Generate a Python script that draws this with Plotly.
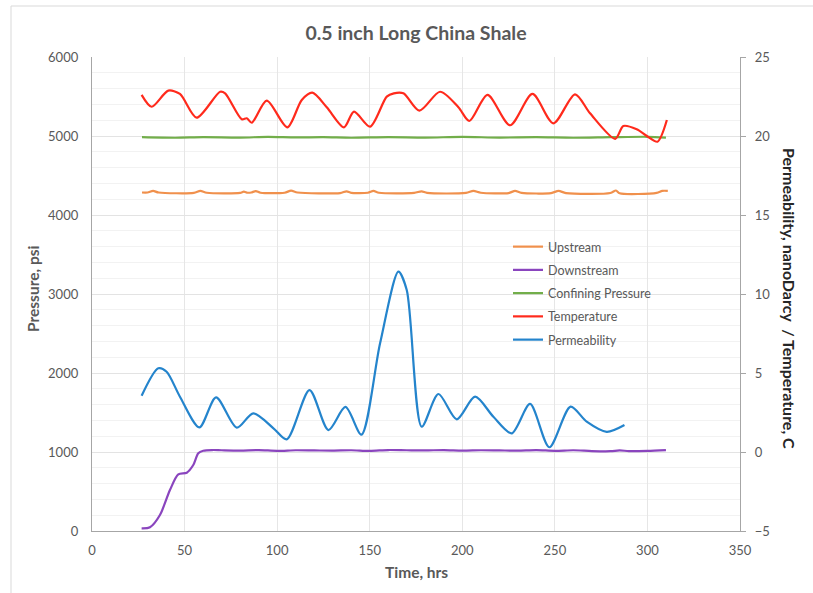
import plotly.graph_objects as go

# ---------------- data ----------------
up_t = [27, 30, 33, 36, 55, 58.5, 62, 80, 82, 84, 86, 88.5, 91, 104, 107.5, 111,
        134, 137.5, 140, 149, 152, 155, 174, 178, 181, 202, 206, 210, 225, 228.5,
        232, 248, 252, 256, 280, 283, 285, 305, 308, 311]
up_p = [4285, 4285, 4305, 4285, 4280, 4305, 4282, 4280, 4295, 4282, 4285, 4303,
        4282, 4282, 4308, 4285, 4278, 4300, 4280, 4282, 4305, 4282, 4280, 4300,
        4280, 4280, 4305, 4282, 4278, 4305, 4280, 4278, 4305, 4278, 4278, 4310,
        4275, 4280, 4305, 4305]

down_t = [26.8, 31.3, 36.7, 42.1, 46.6, 51.2, 54.7, 57.4, 60.1, 65, 70, 80, 90,
          100, 110, 120, 130, 140, 150, 160, 170, 180, 190, 200, 210, 220, 230,
          240, 250, 260, 270, 280, 285, 290, 300, 310]
down_p = [34, 47, 202, 519, 717, 738, 835, 983, 1016, 1025, 1022, 1018, 1025,
          1015, 1022, 1020, 1018, 1022, 1015, 1025, 1022, 1020, 1025, 1018, 1022,
          1020, 1018, 1025, 1015, 1022, 1012, 1010, 1020, 1012, 1015, 1025]

conf_t = [27, 45, 60, 80, 95, 110, 125, 140, 160, 180, 200, 220, 240, 260, 280,
          300, 310]
conf_p = [4985, 4978, 4985, 4980, 4988, 4982, 4985, 4978, 4985, 4980, 4988, 4980,
          4985, 4978, 4985, 4990, 4980]

temp_t = [26.8, 32.2, 41.2, 47.5, 56.5, 69.2, 71.9, 80.9, 83.6, 86.3, 94.4, 105.5,
          113.3, 119.0, 126.8, 136.1, 141.5, 150.2, 159.2, 163.0, 168.2, 176.8,
          188.0, 197.9, 203.8, 213.6, 225.8, 237.9, 249.2, 260.9, 269.0, 282.6,
          287.0, 294.2, 299.7, 305.4, 310.5]
temp_c = [22.6, 21.85, 22.87, 22.66, 21.16, 22.8, 22.7, 21.06, 21.12, 20.84, 22.24,
          20.55, 22.28, 22.74, 21.82, 20.55, 21.54, 20.59, 22.49, 22.7, 22.7, 21.6,
          22.8, 21.82, 20.95, 22.6, 20.68, 22.66, 20.8, 22.64, 21.44, 19.82, 20.63,
          20.42, 20.0, 19.64, 21.01]

perm_t = [26.8, 35.8, 40.3, 47.5, 58, 67, 78.2, 87.1, 98, 105.2, 117.5, 127.7,
          136.9, 145.5, 155.6, 165.5, 170, 178.1, 187.1, 197, 206.9, 216.8, 226.7,
          236.6, 247, 258.5, 267.2, 278, 287.6]
perm_nd = [3.56, 5.3, 5.08, 3.5, 1.56, 3.46, 1.54, 2.45, 1.5, 0.8, 3.92, 1.39,
           2.85, 1.1, 6.88, 11.41, 10.25, 1.6, 3.67, 2.07, 3.5, 2.23, 1.18, 3.04,
           0.3, 2.87, 1.92, 1.28, 1.71]

x_ticks = [0, 50, 100, 150, 200, 250, 300, 350]

# ---------------- figure ----------------
FONT = "Lato, 'Open Sans', sans-serif"
GREY = "#595959"

fig = go.Figure()

def add(x, y, name, color, axis="y"):
    fig.add_trace(go.Scatter(
        x=x, y=y, name=name, mode="lines", yaxis=axis,
        line=dict(color=color, width=2.2, shape="spline", smoothing=0.8),
        legendgroup=name, hoverinfo="x+y+name"))

add(up_t, up_p, "Upstream", "#F0904C")
add(down_t, down_p, "Downstream", "#8A45BE")
add(conf_t, conf_p, "Confining Pressure", "#72AE4A")
add(temp_t, temp_c, "Temperature", "#FF2A1C", axis="y2")
add(perm_t, perm_nd, "Permeability", "#2484CC", axis="y2")

L, R, T, B = 92, 73, 57, 62
W, H = 813, 593
pw, ph = W - L - R, H - T - B

def px(xp):
    return (xp - L) / pw

def py(yp):
    return (H - B - yp) / ph

fig.update_layout(
    width=W, height=H,
    margin=dict(l=L, r=R, t=T, b=B, autoexpand=False),
    paper_bgcolor="white", plot_bgcolor="white",
    font=dict(family=FONT, color=GREY, size=13),
    title=dict(text="<b>0.5 inch Long China Shale</b>", x=0.5, xref="paper",
               xanchor="center", y=1 - 33 / H, yanchor="middle",
               font=dict(size=19.5, color=GREY, family=FONT)),
    showlegend=True,
    legend=dict(x=px(508), y=py(232), xanchor="left", yanchor="top",
                bgcolor="rgba(0,0,0,0)", font=dict(size=12.5, color=GREY, family=FONT),
                tracegroupgap=4, itemwidth=30),
    xaxis=dict(range=[0, 350], tickvals=x_ticks, showgrid=True,
               gridcolor="#e6e6e6", gridwidth=1, showline=True, linecolor="#a6a6a6",
               linewidth=1.3, ticks="", zeroline=False,
               tickfont=dict(size=13, color=GREY), ticklabelstandoff=7),
    yaxis=dict(range=[0, 6000], dtick=1000, showgrid=True, gridcolor="#e3e3e3",
               gridwidth=1, showline=True, linecolor="#a6a6a6", linewidth=1.3,
               ticks="", zeroline=False, tickfont=dict(size=13, color=GREY),
               ticklabelstandoff=10,
               minor=dict(dtick=200, showgrid=True, gridcolor="#f2f2f2", gridwidth=1)),
    yaxis2=dict(range=[-5, 25], dtick=5, overlaying="y", side="right",
                showgrid=False, showline=True, linecolor="#a6a6a6", linewidth=1.3,
                ticks="outside", ticklen=5, tickcolor="#a6a6a6", zeroline=False,
                tickfont=dict(size=13, color=GREY), ticklabelstandoff=6),
    annotations=[
        dict(text="<b>Time, hrs</b>", xref="paper", yref="paper", x=0.5, y=py(572),
             showarrow=False, xanchor="center", yanchor="middle",
             font=dict(size=15.5, color=GREY, family=FONT)),
        dict(text="<b>Pressure, psi</b>", xref="paper", yref="paper", x=px(33),
             y=py(289), showarrow=False, textangle=-90, xanchor="center",
             yanchor="middle", font=dict(size=15.5, color=GREY, family=FONT)),
        dict(text="<b>Permeability, nanoDarcy  / Temperature, C</b>", xref="paper",
             yref="paper", x=px(790), y=py(299), showarrow=False, textangle=90,
             xanchor="center", yanchor="middle",
             font=dict(size=16, color="#262626", family=FONT)),
    ],
    shapes=[
        dict(type="line", xref="paper", yref="paper", x0=px(11), x1=px(820),
             y0=py(6), y1=py(6), line=dict(color="#d9d9d9", width=1)),
        dict(type="line", xref="paper", yref="paper", x0=px(11), x1=px(11),
             y0=py(6), y1=py(600), line=dict(color="#d9d9d9", width=1)),
    ],
)

fig.write_html("out.html")
